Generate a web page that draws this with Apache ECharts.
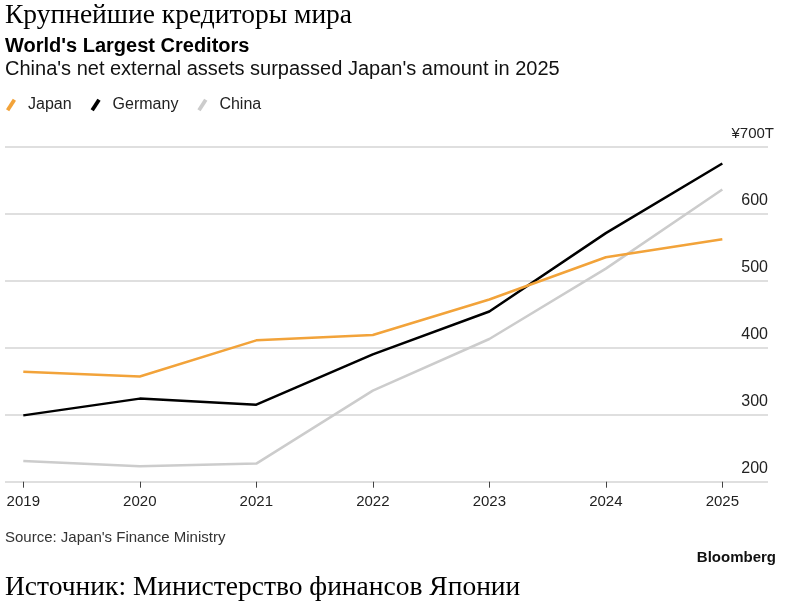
<!DOCTYPE html>
<html>
<head>
<meta charset="utf-8">
<script src="https://cdn.jsdelivr.net/npm/echarts@6/dist/echarts.min.js"></script>
<style>
  html, body { margin: 0; padding: 0; background: #fff; }
  #chart { width: 786px; height: 605px; }
</style>
</head>
<body>
<div id="chart"></div>
<script>
// data (trillion yen)
const years = [2019, 2020, 2021, 2022, 2023, 2024, 2025]
const japan = [364, 357, 411, 419, 472, 535, 562]
const germany = [299, 324, 315, 390, 454, 571, 675]
const china = [231, 223, 227, 336, 413, 518, 636]
const yTicks = [200, 300, 400, 500, 600, 700]

const sans = '"Liberation Sans", Arial, sans-serif'
const serif = '"Liberation Serif", "Times New Roman", serif'
const slash = 'path://M0,10.5 L6.8,0 L10,2.2 L3.2,12.7 Z'

const pairs = vals => years.map((y, i) => [y, vals[i]])

const chart = echarts.init(document.getElementById('chart'), null, { renderer: 'canvas' })

const option = {
    animation: false,
    backgroundColor: '#fff',
    graphic: [
        { type: 'text', style: { text: 'Крупнейшие кредиторы мира', x: 5, y: 16, font: '27.5px ' + serif, fill: '#000', verticalAlign: 'middle' } },
        { type: 'text', style: { text: "World's Largest Creditors", x: 5, y: 46, font: 'bold 20px ' + sans, fill: '#000', verticalAlign: 'middle' } },
        { type: 'text', style: { text: "China's net external assets surpassed Japan's amount in 2025", x: 5, y: 69, font: '20px ' + sans, fill: '#111', verticalAlign: 'middle' } },
        { type: 'text', style: { text: "Source: Japan's Finance Ministry", x: 5, y: 538, font: '15px ' + sans, fill: '#333', verticalAlign: 'middle' } },
        { type: 'text', style: { text: 'Bloomberg', x: 776, y: 558, font: 'bold 15px ' + sans, fill: '#111', align: 'right', verticalAlign: 'middle' } },
        { type: 'text', style: { text: 'Источник: Министерство финансов Японии', x: 5, y: 588, font: '27.5px ' + serif, fill: '#000', verticalAlign: 'middle' } }
    ],
    legend: {
        left: 6,
        top: 97,
        padding: 0,
        itemWidth: 10,
        itemHeight: 13,
        itemGap: 19,
        icon: slash,
        textStyle: { fontFamily: sans, fontSize: 16, color: '#222', padding: [0, 0, 0, 7] },
        data: ['Japan', 'Germany', 'China']
    },
    grid: { left: 5, right: 18, top: 146.7, bottom: 123.3, containLabel: false },
    xAxis: {
        type: 'value',
        min: 2018.843,
        max: 2025.392,
        axisLine: { show: false },
        splitLine: { show: false },
        axisTick: { show: true, customValues: years, length: 6, lineStyle: { color: '#444', width: 1 } },
        axisLabel: {
            customValues: years,
            formatter: v => String(v),
            margin: 13,
            fontFamily: sans,
            fontSize: 15,
            color: '#222'
        }
    },
    yAxis: {
        type: 'value',
        position: 'right',
        min: 200,
        max: 700,
        interval: 100,
        axisLine: { show: false },
        axisTick: { show: false },
        splitLine: { show: true, lineStyle: { color: '#d4d4d4', width: 1.5 } },
        axisLabel: {
            inside: true,
            margin: -6,
            verticalAlign: 'bottom',
            padding: [0, 0, 5, 0],
            fontFamily: sans,
            fontSize: 16,
            color: '#222',
            // top label carries the unit; its "T" hangs past the gridline end
            formatter: v => (v === yTicks[yTicks.length - 1] ? '{u|¥' + v + 'T}' : '{n|' + v + '}'),
            rich: {
                u: { fontFamily: sans, fontSize: 15, color: '#222' },
                n: { fontFamily: sans, fontSize: 16, color: '#222', padding: [0, 6, 0, 0] }
            }
        }
    },
    series: [
        {
            name: 'Japan', type: 'line', z: 4, symbol: 'none',
            itemStyle: { color: '#f2a33a' },
            lineStyle: { color: '#f2a33a', width: 2.5 },
            data: pairs(japan)
        },
        {
            name: 'Germany', type: 'line', z: 3, symbol: 'none',
            itemStyle: { color: '#000' },
            lineStyle: { color: '#000', width: 2.5 },
            data: pairs(germany)
        },
        {
            name: 'China', type: 'line', z: 2, symbol: 'none',
            itemStyle: { color: '#cccccc' },
            lineStyle: { color: '#cccccc', width: 2.5 },
            data: pairs(china)
        }
    ]
}

chart.setOption(option)
</script>
</body>
</html>
